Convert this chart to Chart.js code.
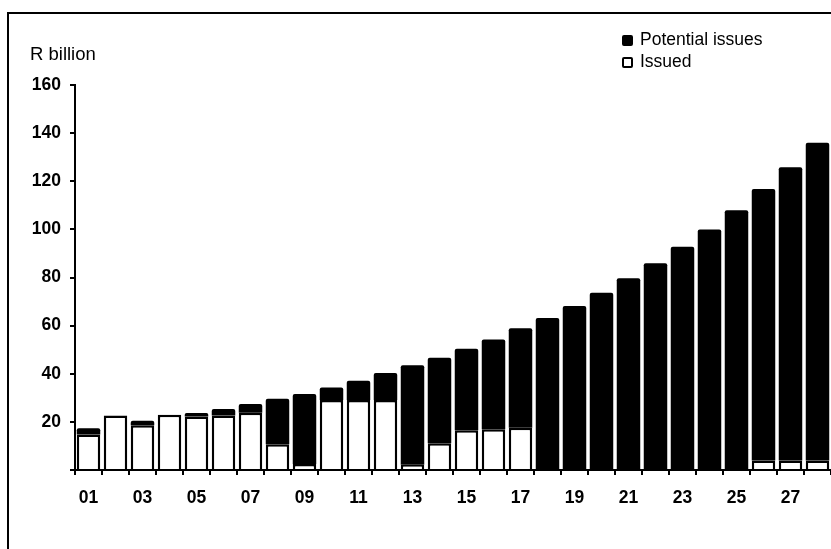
<!DOCTYPE html>
<html>
<head>
<meta charset="utf-8">
<script src="https://cdn.jsdelivr.net/npm/chart.js@4"></script>
<style>
  body { margin: 0; background: #fff; font-family: "Liberation Sans", Arial, sans-serif; }
  #wrap { position: relative; width: 831px; height: 549px; overflow: hidden; }
  #frame { position: absolute; left: 7px; top: 12px; width: 900px; height: 600px;
           border-left: 2px solid #000; border-top: 2px solid #000; }
  canvas { position: absolute; left: 0; top: 0; }
  .unit { position: absolute; left: 30px; top: 43px; font-size: 18.5px; }
  .legend { position: absolute; left: 622px; font-size: 17.5px; line-height: 20px; }
  .legend span.box { display: inline-block; box-sizing: border-box; width: 11px; height: 11px;
                     border: 2px solid #000; margin-right: 7px; vertical-align: -1px; border-radius: 2px; }
</style>
</head>
<body>
<div id="wrap">
  <div id="frame"></div>
  <canvas id="chart" width="831" height="549"></canvas>
  <div class="unit">R billion</div>
  <div class="legend" style="top:29px"><span class="box" style="background:#000"></span>Potential issues</div>
  <div class="legend" style="top:51px"><span class="box" style="background:#fff"></span>Issued</div>
</div>
<script>
// Years (last two digits)
const years = ["01","02","03","04","05","06","07","08","09","10","11","12","13","14",
               "15","16","17","18","19","20","21","22","23","24","25","26","27","28"];

// Bonds already issued (R billion)
const issued = [14.8, 22.6, 18.6, 23.0, 22.2, 22.7, 23.8, 10.7, 2.5, 29.1, 29.1, 29.1, 2.2, 11.1,
                16.5, 16.9, 17.6, 0, 0, 0, 0, 0, 0, 0, 0, 4.0, 4.0, 4.0];

// Potential issues (R billion), stacked on top of issued
const potential = [2.5, 0, 1.9, 0, 1.5, 2.7, 3.6, 18.9, 29.1, 5.2, 8.0, 11.2, 41.3, 35.6,
                   33.9, 37.3, 41.3, 63.2, 68.2, 73.7, 79.7, 85.9, 92.8, 99.9, 107.9, 112.8, 121.8, 132.0];

const yTicks = [20, 40, 60, 80, 100, 120, 140, 160];

const font = { family: "'Liberation Sans', Arial, sans-serif", size: 17.5, weight: "bold" };

const ctx = document.getElementById("chart").getContext("2d");
new Chart(ctx, {
    type: "bar",
    data: {
        labels: years,
        datasets: [
            {
                label: "Issued",
                data: issued,
                backgroundColor: "#fff",
                borderColor: "#000",
                borderWidth: 2.5,
                borderSkipped: "bottom",
                barPercentage: 0.87,
                categoryPercentage: 1
            },
            {
                label: "Potential issues",
                data: potential,
                backgroundColor: "#000",
                borderColor: "#000",
                borderWidth: 0,
                borderRadius: { topLeft: 2, topRight: 2 },
                borderSkipped: false,
                barPercentage: 0.87,
                categoryPercentage: 1
            }
        ]
    },
    options: {
        responsive: false,
        animation: false,
        layout: { padding: { top: 85, left: 0, right: 0, bottom: 0 } },
        plugins: { legend: { display: false }, tooltip: { enabled: false } },
        scales: {
            x: {
                stacked: true,
                grid: { drawOnChartArea: false, color: "#000", lineWidth: 2, tickLength: 5, offset: true },
                border: { color: "#000", width: 2 },
                ticks: {
                    color: "#000", font: font, maxRotation: 0, autoSkip: false, padding: 13,
                    callback: (v, i) => i % 2 === 0 ? years[i] : ""
                },
                afterFit: s => { s.height = 79; }
            },
            y: {
                stacked: true,
                min: 0,
                max: 160,
                grid: { drawOnChartArea: false, color: "#000", lineWidth: 2, tickLength: 5 },
                border: { color: "#000", width: 2 },
                afterBuildTicks: s => { s.ticks = [0].concat(yTicks).map(v => ({ value: v })); },
                ticks: {
                    color: "#000", font: font, padding: 9,
                    callback: v => v === 0 ? "" : v
                },
                afterFit: s => { s.width = 75; }
            }
        }
    }
});
</script>
</body>
</html>
